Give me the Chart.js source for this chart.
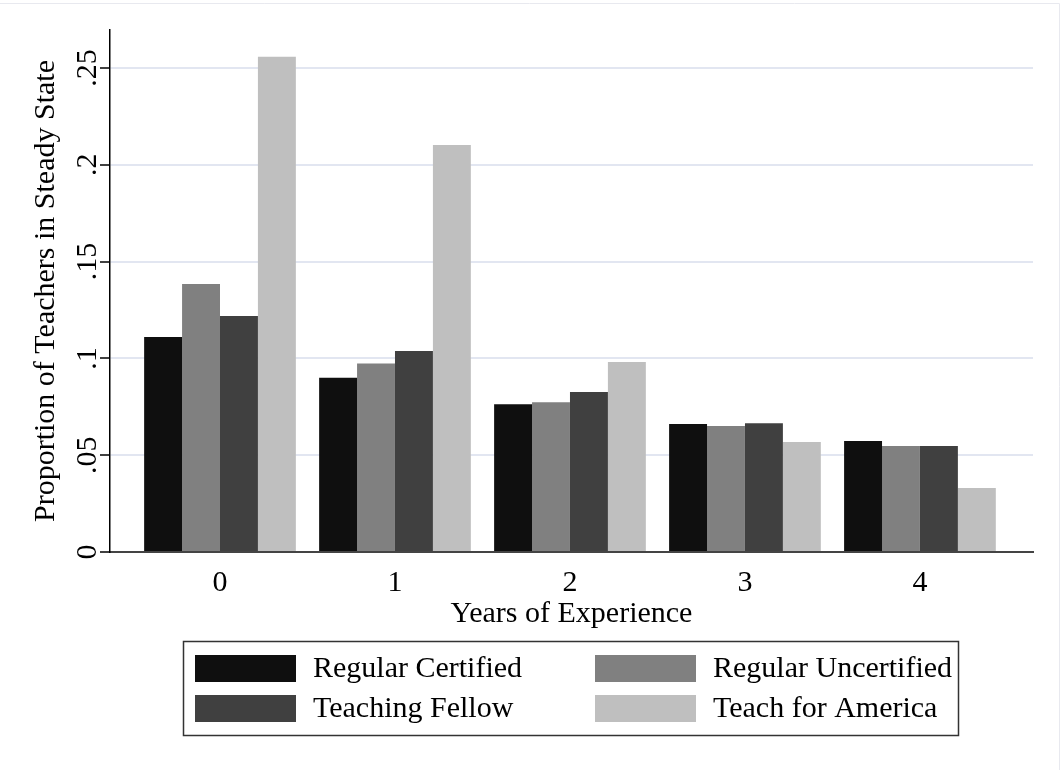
<!DOCTYPE html>
<html>
<head>
<meta charset="utf-8">
<title>Proportion of Teachers in Steady State</title>
<script src="https://cdn.jsdelivr.net/npm/chart.js@4.4.1/dist/chart.umd.min.js"></script>
<style>
  html, body { margin: 0; padding: 0; background: #fff; }
  canvas { display: block; }
</style>
</head>
<body>
<canvas id="chart" width="1061" height="770"></canvas>
<script>
// years of experience (x positions) and their labels
const categories = [0, 1, 2, 3, 4];
const xTickLabels = ['0', '1', '2', '3', '4'];

// share of teachers in steady state
const regularCertified   = [0.111, 0.090, 0.0763, 0.0661, 0.0573];
const regularUncertified = [0.1384, 0.0973, 0.0773, 0.0651, 0.0548];
const teachingFellow     = [0.1219, 0.1038, 0.0826, 0.0665, 0.0548];
const teachForAmerica    = [0.2558, 0.2102, 0.0981, 0.0568, 0.0331];

const seriesNames = ['Regular Certified', 'Regular Uncertified', 'Teaching Fellow', 'Teach for America'];
const seriesColors = ['#0f0f0f', '#808080', '#404040', '#bfbfbf'];

const yTicks = [0, 0.05, 0.1, 0.15, 0.2, 0.25];
const yTickLabels = ['0', '.05', '.1', '.15', '.2', '.25'];

const FONT = "'Liberation Serif', 'Times New Roman', serif";
Chart.defaults.font.family = FONT;
Chart.defaults.font.size = 30;
Chart.defaults.color = '#000';

function toPoints(values) {
  return categories.map((c, i) => ({ x: c, y: values[i] }));
}

const allSeries = [regularCertified, regularUncertified, teachingFellow, teachForAmerica];

// Stata style legend: framed box, two columns
const boxLegend = {
  id: 'boxLegend',
  afterDraw(chart) {
    const ctx = chart.ctx;
    ctx.save();
    ctx.strokeStyle = '#333';
    ctx.lineWidth = 1.5;
    ctx.strokeRect(183.5, 641.5, 775, 94);

    const colX = [195, 595];
    const rowY = [655, 695];
    chart.data.datasets.forEach((ds, i) => {
      const x = colX[i % 2];
      const y = rowY[Math.floor(i / 2)];
      ctx.fillStyle = ds.backgroundColor;
      ctx.fillRect(x, y, 101, 27);
      ctx.fillStyle = '#000';
      ctx.font = '30px ' + FONT;
      ctx.textBaseline = 'middle';
      ctx.textAlign = 'left';
      ctx.fillText(ds.label, x + 118, y + 14);
    });

    // faint frame of the graph region
    ctx.strokeStyle = '#e8e9ef';
    ctx.lineWidth = 1;
    ctx.beginPath();
    ctx.moveTo(0, 3.5);
    ctx.lineTo(1059.5, 3.5);
    ctx.lineTo(1059.5, 770);
    ctx.stroke();
    ctx.restore();
  }
};

new Chart(document.getElementById('chart'), {
  type: 'bar',
  data: {
    datasets: allSeries.map((vals, i) => ({
      label: seriesNames[i],
      data: toPoints(vals),
      backgroundColor: seriesColors[i],
      borderWidth: 0,
      categoryPercentage: 0.867,
      barPercentage: 1.0
    }))
  },
  options: {
    responsive: false,
    animation: false,
    layout: { padding: { top: 30, right: 28, left: 0, bottom: 128 } },
    plugins: {
      legend: { display: false },
      tooltip: { enabled: false }
    },
    scales: {
      x: {
        type: 'linear',
        min: -0.6286,
        max: 4.646,
        offset: false,
        z: 1,
        afterBuildTicks: s => { s.ticks = categories.map(v => ({ value: v })); },
        afterFit: s => { s.height = 90; },
        grid: { display: false, offset: false },
        border: { display: true, color: '#444', width: 2 },
        ticks: {
          padding: 5,
          maxRotation: 0,
          callback: v => xTickLabels[categories.indexOf(v)]
        },
        title: {
          display: true,
          text: 'Years of Experience',
          padding: { top: 4, bottom: 10 }
        }
      },
      y: {
        min: 0,
        max: 0.2696,
        afterBuildTicks: s => { s.ticks = yTicks.map(v => ({ value: v })); },
        afterFit: s => { s.width = 110; },
        grid: {
          color: c => (c.tick && c.tick.value === 0) ? 'rgba(0,0,0,0)' : '#e2e6f1',
          lineWidth: 2,
          tickColor: '#000',
          tickLength: 10,
          tickWidth: 1.5
        },
        border: { display: true, color: '#000', width: 1.5 },
        ticks: {
          minRotation: 90,
          maxRotation: 90,
          crossAlign: 'center',
          padding: -6.5,
          callback: (v, i) => yTickLabels[i]
        },
        title: {
          display: true,
          text: 'Proportion of Teachers in Steady State',
          padding: { top: 28, bottom: 0 }
        }
      }
    }
  },
  plugins: [boxLegend]
});
</script>
</body>
</html>
